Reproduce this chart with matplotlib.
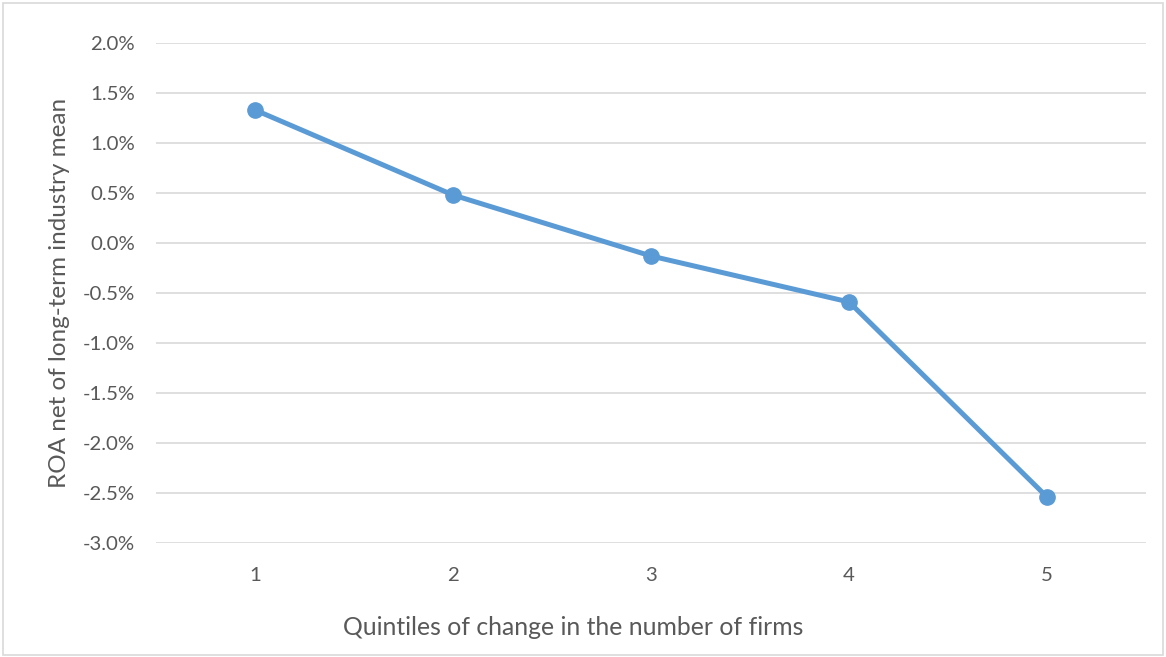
import numpy as np
import matplotlib.pyplot as plt
from matplotlib.patches import Rectangle
from matplotlib.ticker import FuncFormatter

# data
quintiles = ['1', '2', '3', '4', '5']
roa = [1.33, 0.48, -0.13, -0.59, -2.54]   # percent

plt.rcParams['font.family'] = ['Lato', 'DejaVu Sans']
grey = '#595959'

fig = plt.figure(figsize=(11.66, 6.57), dpi=100)
ax = fig.add_axes([0.1338, 0.1735, 0.8491, 0.7611])

x = np.arange(len(quintiles))
ax.plot(x, roa, '-o', color='#5B9BD5', lw=3.6, ms=11, solid_capstyle='round')

ax.set_xlim(-0.5, 4.5)
ax.set_ylim(-3.0, 2.0)
ax.set_yticks(np.arange(-3.0, 2.01, 0.5))
ax.yaxis.set_major_formatter(FuncFormatter(lambda v, p: f'{v:.1f}%'))
ax.set_xticks(x)
ax.set_xticklabels(quintiles)
ax.grid(axis='y', color='#d9d9d9', lw=1.2)
ax.set_axisbelow(True)
for s in ax.spines.values():
    s.set_visible(False)
ax.tick_params(length=0, labelsize=14.7, labelcolor=grey)
ax.tick_params(axis='x', pad=17)
ax.tick_params(axis='y', pad=15)

ax.set_xlabel('Quintiles of change in the number of firms', fontsize=17.8, color=grey)
ax.set_ylabel('ROA net of long-term industry mean', fontsize=17.5, color=grey)
ax.xaxis.set_label_coords(0.421, -0.145)
ax.yaxis.set_label_coords(-0.087, 0.5)

# outer chart border
fig.patches.append(Rectangle((0.003, 0.003), 0.994, 0.992, transform=fig.transFigure,
                             fill=False, edgecolor='#d9d9d9', lw=1.2))

plt.savefig('out.png', dpi=100)
